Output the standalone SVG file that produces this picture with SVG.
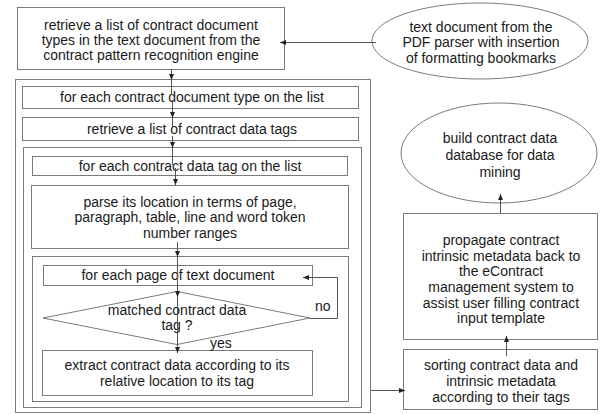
<svg xmlns="http://www.w3.org/2000/svg" width="605" height="414" viewBox="0 0 605 414">
<defs>
<style>
.b{fill:none;stroke:#7a7a7a;stroke-width:1}
.c{fill:none;stroke:#555;stroke-width:1}
text{font-family:"Liberation Sans",Arial,sans-serif;font-size:14px;fill:#1a1a1a}
.m{text-anchor:middle}
</style>
<marker id="ah" markerUnits="userSpaceOnUse" markerWidth="7" markerHeight="6" refX="6" refY="2.5" orient="auto">
<path d="M0,0 L6,2.5 L0,5 z" fill="#222"/>
</marker>
</defs>
<rect width="605" height="414" fill="#fff"/>

<g id="retrieve-types">
<rect class="b" x="17.5" y="7.5" width="267" height="62"/>
<text class="m" x="151" y="30">retrieve a list of contract document</text>
<text class="m" x="151" y="45">types in the text document from the</text>
<text class="m" x="151" y="60">contract pattern recognition engine</text>
</g>

<g id="text-document">
<ellipse class="b" cx="480" cy="41" rx="108" ry="38"/>
<text class="m" x="481" y="32">text document from the</text>
<text class="m" x="481" y="47">PDF parser with insertion</text>
<text class="m" x="481" y="63">of formatting bookmarks</text>
</g>

<g id="loop-doc-types">
<rect class="b" x="15.5" y="79.5" width="355" height="333"/>
</g>

<g id="for-each-doc-type">
<rect class="b" x="22.5" y="86.5" width="336" height="22"/>
<text class="m" x="192" y="102">for each contract document type on the list</text>
</g>

<g id="retrieve-tags">
<rect class="b" x="22.5" y="117.5" width="336" height="23"/>
<text class="m" x="192" y="134">retrieve a list of contract data tags</text>
</g>

<g id="loop-tags">
<rect class="b" x="23.5" y="147.5" width="338" height="260"/>
</g>

<g id="for-each-tag">
<rect class="b" x="32.5" y="156.5" width="315" height="19"/>
<text class="m" x="190" y="171">for each contract data tag on the list</text>
</g>

<g id="parse-location">
<rect class="b" x="31.5" y="185.5" width="317" height="63"/>
<text class="m" x="190" y="207">parse its location in terms of page,</text>
<text class="m" x="190" y="222">paragraph, table, line and word token</text>
<text class="m" x="190" y="238">number ranges</text>
</g>

<g id="loop-pages">
<rect class="b" x="32.5" y="256.5" width="316" height="145"/>
</g>

<g id="for-each-page">
<rect class="b" x="43.5" y="265.5" width="269" height="20"/>
<text class="m" x="178" y="280">for each page of text document</text>
</g>

<g id="matched-tag">
<polygon class="b" points="177,291.5 310,318 177,344.5 43,318"/>
<text class="m" x="177" y="315">matched contract data</text>
<text class="m" x="177" y="330">tag ?</text>
</g>

<g id="extract-data">
<rect class="b" x="42.5" y="350.5" width="270" height="45"/>
<text class="m" x="177" y="370">extract contract data according to its</text>
<text class="m" x="177" y="386">relative location to its tag</text>
</g>

<g id="build-database">
<ellipse class="b" cx="499" cy="153" rx="98" ry="50"/>
<text class="m" x="500" y="143">build contract data</text>
<text class="m" x="500" y="160">database for data</text>
<text class="m" x="500" y="177">mining</text>
</g>

<g id="propagate-metadata">
<rect class="b" x="403.5" y="213.5" width="194" height="126"/>
<text class="m" x="501" y="245">propagate contract</text>
<text class="m" x="501" y="261">intrinsic metadata back to</text>
<text class="m" x="501" y="276">the eContract</text>
<text class="m" x="501" y="292">management system to</text>
<text class="m" x="501" y="308">assist user filling contract</text>
<text class="m" x="501" y="323">input template</text>
</g>

<g id="sorting">
<rect class="b" x="403.5" y="349.5" width="194" height="60"/>
<text class="m" x="501" y="370">sorting contract data and</text>
<text class="m" x="501" y="386">intrinsic metadata</text>
<text class="m" x="501" y="402">according to their tags</text>
</g>

<g id="connectors">
<path class="c" d="M376,42.5 H280" marker-end="url(#ah)"/>
<path class="c" d="M171.5,69 V80" marker-end="url(#ah)"/>
<path class="c" d="M171.5,80 V95"/>
<path class="c" d="M172.5,100 V118" marker-end="url(#ah)"/>
<path class="c" d="M172.5,118 V128"/>
<path class="c" d="M172.5,136 V148" marker-end="url(#ah)"/>
<path class="c" d="M172.5,148 V165"/>
<path class="c" d="M175.5,168 V185" marker-end="url(#ah)"/>
<path class="c" d="M177.5,242 V257" marker-end="url(#ah)"/>
<path class="c" d="M177.5,257 V276"/>
<path class="c" d="M177.5,276 V297" marker-end="url(#ah)"/>
<path class="c" d="M177.5,297 V353" marker-end="url(#ah)"/>
<path class="c" d="M310,318.5 H337.5 V277.5 H303" marker-end="url(#ah)"/>
<path class="c" d="M500.5,213 V194" marker-end="url(#ah)"/>
<path class="c" d="M506.5,356 V336" marker-end="url(#ah)"/>
<path class="c" d="M371,390.5 H405" marker-end="url(#ah)"/>
</g>

<text x="315" y="311">no</text>
<text x="210" y="348">yes</text>
</svg>
